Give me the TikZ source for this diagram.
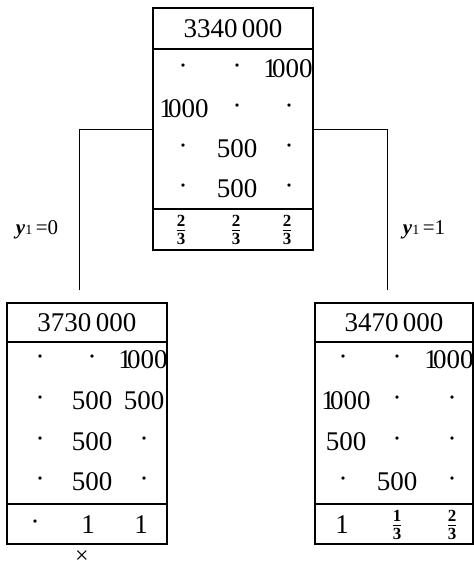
\documentclass[tikz,border=0pt]{standalone}
\usepackage{fontspec}
\setmainfont{Liberation Serif}

\newcommand\bfr[2]{$\frac{\hbox{\fontsize{17}{17}\selectfont\bfseries #1}}{\hbox{\fontsize{17}{17}\selectfont\bfseries #2}}$}
\newcommand\thou{1\kern-.18em000}
\newcommand\yeq[1]{\textbf{\textit{y}}{\fontsize{14}{14}\selectfont 1}\,=#1}

\begin{document}
\begin{tikzpicture}[x=1pt, y=-1pt,
  part/.style={draw, line width=1.6pt, anchor=north west, minimum width=160pt,
    inner sep=0pt, outer sep=0pt, font=\fontsize{27}{27}\selectfont},
  cell/.style={inner sep=0pt, font=\fontsize{27}{27}\selectfont},
  link/.style={line width=.9pt},
  lbl/.style={inner sep=0pt, font=\fontsize{21}{21}\selectfont}]

  \useasboundingbox (0,0) rectangle (474,568);

  \node[part, minimum height=41pt] (top-head) at (153,8) {3340\,000};
  \node[part, minimum height=160pt] (top-body) at (153,49) {};
  \node[part, minimum height=41pt] (top-foot) at (153,209) {};

  \node[cell] (top-a1) at (183,69) {\textperiodcentered};
  \node[cell] (top-a2) at (237,69) {\textperiodcentered};
  \node[cell] (top-a3) at (288,69) {\thou};
  \node[cell] (top-b1) at (184,109) {\thou};
  \node[cell] (top-b2) at (237,109) {\textperiodcentered};
  \node[cell] (top-b3) at (289,109) {\textperiodcentered};
  \node[cell] (top-c1) at (183,149) {\textperiodcentered};
  \node[cell] (top-c2) at (237,149) {500};
  \node[cell] (top-c3) at (289,149) {\textperiodcentered};
  \node[cell] (top-d1) at (183,189) {\textperiodcentered};
  \node[cell] (top-d2) at (237,189) {500};
  \node[cell] (top-d3) at (289,189) {\textperiodcentered};
  \node[cell] (top-f1) at (181,230) {\bfr{2}{3}};
  \node[cell] (top-f2) at (236,230) {\bfr{2}{3}};
  \node[cell] (top-f3) at (287,230) {\bfr{2}{3}};

  \node[part, minimum height=39pt] (left-head) at (7,303) {3730\,000};
  \node[part, minimum height=162pt] (left-body) at (7,342) {};
  \node[part, minimum height=40pt] (left-foot) at (7,504) {};

  \node[cell] (left-a1) at (40,360) {\textperiodcentered};
  \node[cell] (left-a2) at (92,360) {\textperiodcentered};
  \node[cell] (left-a3) at (143,360) {\thou};
  \node[cell] (left-b1) at (40,401) {\textperiodcentered};
  \node[cell] (left-b2) at (92,401) {500};
  \node[cell] (left-b3) at (144,401) {500};
  \node[cell] (left-c1) at (40,442) {\textperiodcentered};
  \node[cell] (left-c2) at (92,442) {500};
  \node[cell] (left-c3) at (144,442) {\textperiodcentered};
  \node[cell] (left-d1) at (40,482) {\textperiodcentered};
  \node[cell] (left-d2) at (92,482) {500};
  \node[cell] (left-d3) at (144,482) {\textperiodcentered};
  \node[cell] (left-f1) at (35,525) {\textperiodcentered};
  \node[cell] (left-f2) at (88,525) {1};
  \node[cell] (left-f3) at (141,525) {1};

  \node[part, minimum width=158pt, minimum height=39pt] (right-head) at (315,303) {3470\,000};
  \node[part, minimum width=158pt, minimum height=162pt] (right-body) at (315,342) {};
  \node[part, minimum width=158pt, minimum height=40pt] (right-foot) at (315,504) {};

  \node[cell] (right-a1) at (343,360) {\textperiodcentered};
  \node[cell] (right-a2) at (397,360) {\textperiodcentered};
  \node[cell] (right-a3) at (449,360) {\thou};
  \node[cell] (right-b1) at (346,401) {\thou};
  \node[cell] (right-b2) at (397,401) {\textperiodcentered};
  \node[cell] (right-b3) at (452,401) {\textperiodcentered};
  \node[cell] (right-c1) at (346,442) {500};
  \node[cell] (right-c2) at (397,442) {\textperiodcentered};
  \node[cell] (right-c3) at (452,442) {\textperiodcentered};
  \node[cell] (right-d1) at (343,482) {\textperiodcentered};
  \node[cell] (right-d2) at (397,482) {500};
  \node[cell] (right-d3) at (452,482) {\textperiodcentered};
  \node[cell] (right-f1) at (342,525) {1};
  \node[cell] (right-f2) at (397,525) {\bfr{1}{3}};
  \node[cell] (right-f3) at (452,525) {\bfr{2}{3}};

  \coordinate (left-end) at (79,290);
  \coordinate (right-end) at (387,290);
  \draw[link] (top-body.west) -| (left-end);
  \draw[link] (top-body.east) -| (right-end);

  \node[lbl] (left-lbl) at (37,230) {\yeq{0}};
  \node[lbl] (right-lbl) at (424,230) {\yeq{1}};
  \node[lbl, font=\fontsize{24}{24}\selectfont] (cut) at (82,557) {×};

\end{tikzpicture}
\end{document}
